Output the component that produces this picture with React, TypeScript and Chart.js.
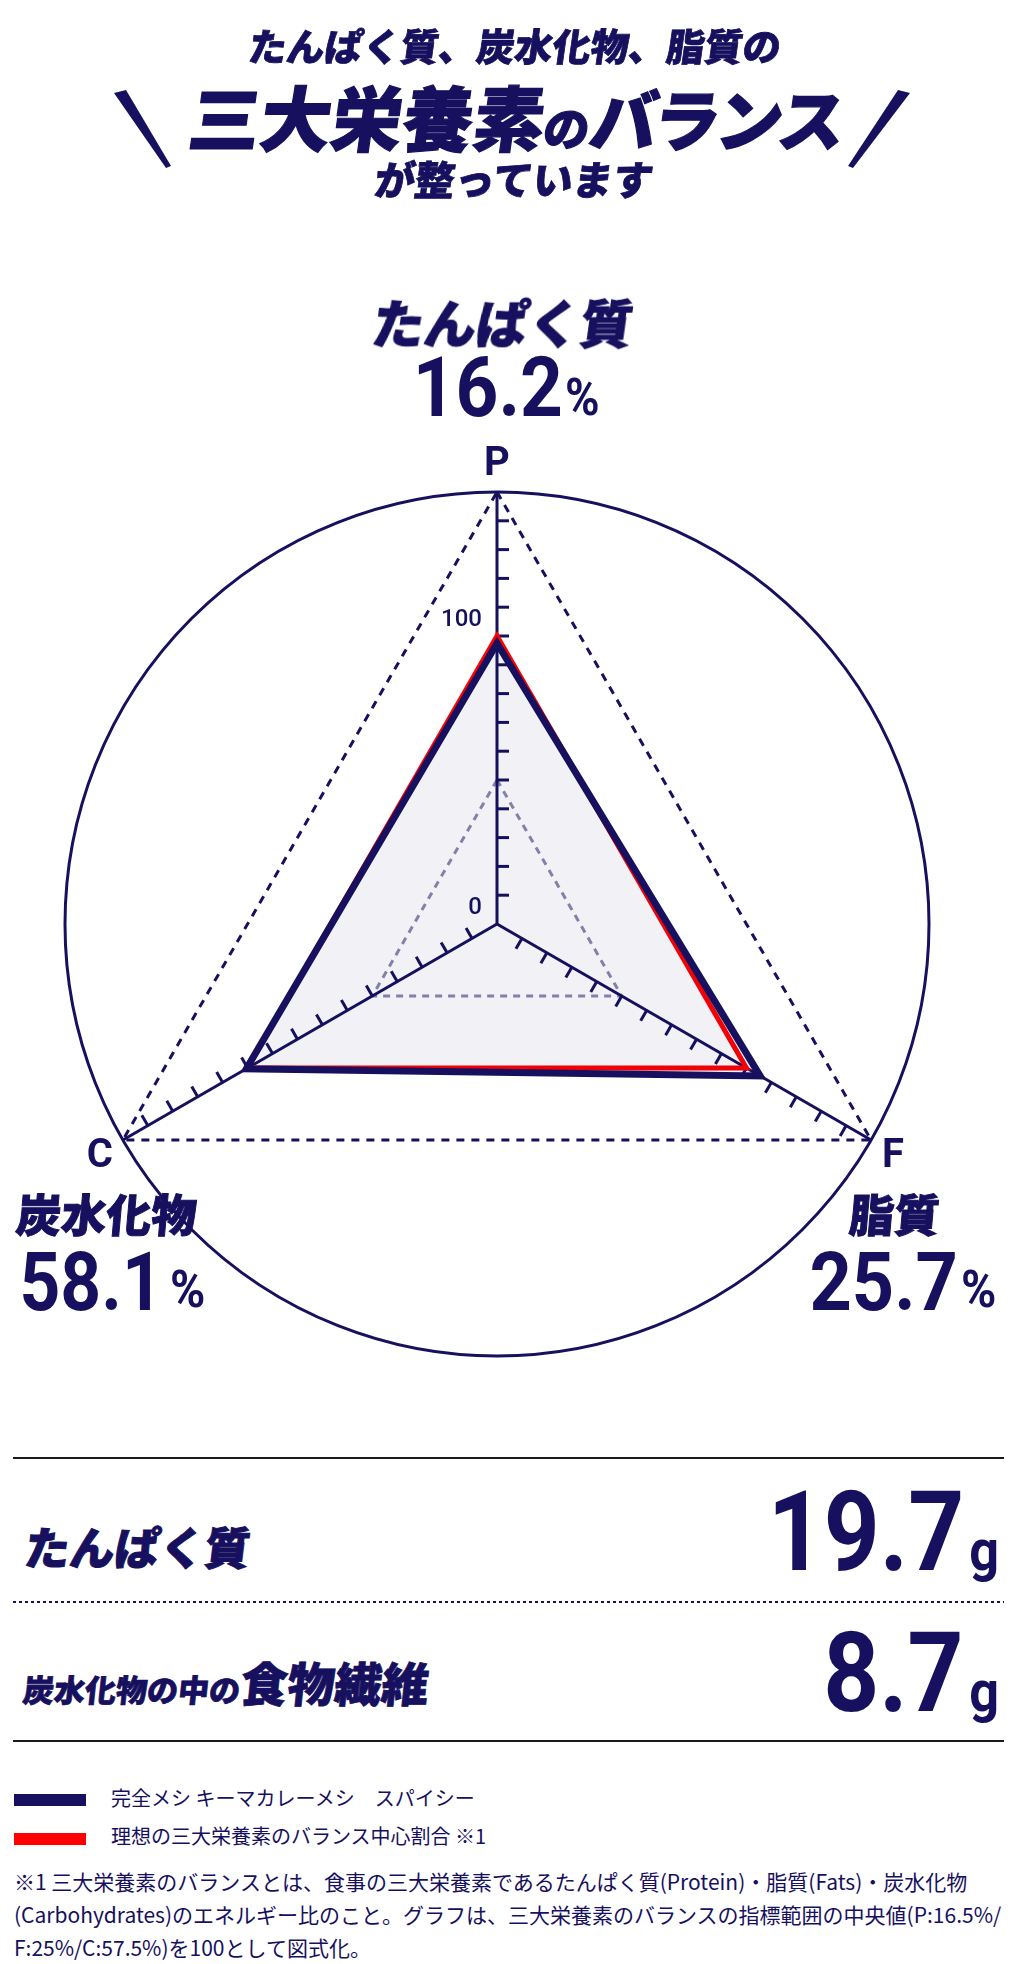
import React, { useEffect, useRef } from 'react';
import { Chart, registerables } from 'chart.js';

Chart.register(...registerables);

// ---------- data ----------
const AXIS_LETTERS = ['P', 'F', 'C'];
const AXIS_NAMES = ['たんぱく質', '脂質', '炭水化物'];
const AXIS_PERCENT = ['16.2', '25.7', '58.1'];
const PRODUCT_INDEX = [97.5, 105.5, 100.5];
const IDEAL_INDEX = [100, 100, 100];
const SERIES_NAMES = ['完全メシ キーマカレーメシ\u3000スパイシー', '理想の三大栄養素のバランス中心割合 ※1'];
const GRID_LEVELS = [0, 50, 100, 150];
const TICK_MARK_VALUES = [10, 20, 30, 40, 50, 60, 70, 80, 90, 100, 110, 120, 130, 140];
const TICK_LABEL_VALUES = [0, 100];
const ROW_LABELS = ['たんぱく質', '炭水化物の中の', '食物繊維'];
const ROW_VALUES = ['19.7', '8.7'];
const ROW_UNIT = 'g';
const TITLE_LINES = ['たんぱく質、炭水化物、脂質の', '三大栄養素', 'の', 'バランス', 'が整っています'];
const FOOTNOTE_LINES = [
  '※1 三大栄養素のバランスとは、食事の三大栄養素であるたんぱく質(Protein)・脂質(Fats)・炭水化物',
  '(Carbohydrates)のエネルギー比のこと。グラフは、三大栄養素のバランスの指標範囲の中央値(P:16.5%/',
  'F:25%/C:57.5%)を100として図式化。',
];

// ---------- style ----------
const NAVY = '#16105e';
const RED = '#ff0000';
const FILL = 'rgba(22,16,94,0.06)';
const GREY_DASH = 'rgba(22,16,94,0.5)';
const CJK = '"Noto Sans CJK JP", sans-serif';
const ROB = 'Roboto, sans-serif';
const K_CJK = 0.936;
const K_ROB = 0.842;

type TxtProps = {
  x: number; y: number; size: number; font?: 'cjk' | 'rob'; weight?: number;
  align?: 'left' | 'right' | 'center'; skew?: number; sx?: number; color?: string; ls?: number; stroke?: number;
  children: React.ReactNode;
};

function Txt({ x, y, size, font = 'cjk', weight = 400, align = 'left', skew = 0, sx = 1, color = NAVY, ls = 0, stroke = 0, children }: TxtProps) {
  const k = font === 'cjk' ? K_CJK : K_ROB;
  const style: any = {
    position: 'absolute', top: y - k * size, fontFamily: font === 'cjk' ? CJK : ROB,
    fontSize: size, fontWeight: weight, lineHeight: `${size}px`, whiteSpace: 'pre', color, letterSpacing: ls,
  };
  if (stroke) style.WebkitTextStroke = `${stroke}px ${color}`;
  let origin = 'left';
  if (align === 'left') style.left = x;
  else if (align === 'right') { style.right = 1024 - x; origin = 'right'; }
  else { style.left = x - 600; style.width = 1200; style.textAlign = 'center'; origin = 'center'; }
  const tf: string[] = [];
  if (sx !== 1) tf.push(`scaleX(${sx})`);
  if (skew) tf.push(`skewX(${-skew}deg)`);
  if (tf.length) { style.transform = tf.join(' '); style.transformOrigin = `${origin} ${k * size}px`; }
  return <div style={style}>{children}</div>;
}

const radarDecor = {
  id: 'radarDecor',
  beforeDatasetsDraw(chart: any) {
    const s = chart.scales.r;
    const ctx = chart.ctx;
    ctx.save();
    ctx.strokeStyle = NAVY;
    ctx.lineWidth = 3;
    const n = chart.data.labels.length;
    for (let i = 0; i < n; i++) {
      const a = s.getIndexAngle(i) - Math.PI / 2;
      const tx = -Math.sin(a);
      const ty = Math.cos(a);
      for (const v of TICK_MARK_VALUES) {
        const p = s.getPointPositionForValue(i, v);
        ctx.beginPath();
        ctx.moveTo(p.x, p.y);
        ctx.lineTo(p.x + tx * 12, p.y + ty * 12);
        ctx.stroke();
      }
    }
    ctx.fillStyle = NAVY;
    ctx.font = '500 24px Roboto';
    ctx.textAlign = 'right';
    ctx.textBaseline = 'alphabetic';
    for (const v of TICK_LABEL_VALUES) {
      const p = s.getPointPositionForValue(0, v);
      ctx.fillText(String(v), p.x - 15, p.y - 10);
    }
    ctx.restore();
  },
  afterDraw(chart: any) {
    const s = chart.scales.r;
    const ctx = chart.ctx;
    ctx.save();
    ctx.fillStyle = NAVY;
    ctx.font = '700 40px Roboto';
    ctx.textBaseline = 'alphabetic';
    const labels = chart.data.labels;
    labels.forEach((lab: string, i: number) => {
      const p = s.getPointPositionForValue(i, s.max);
      if (i === 0) { ctx.textAlign = 'center'; ctx.fillText(lab, p.x, p.y - 17); }
      else if (p.x > s.xCenter) { ctx.textAlign = 'left'; ctx.fillText(lab, p.x + 11, p.y + 27); }
      else { ctx.textAlign = 'right'; ctx.fillText(lab, p.x - 10, p.y + 27); }
    });
    ctx.restore();
  },
};

function Radar() {
  const ref = useRef<HTMLCanvasElement | null>(null);
  useEffect(() => {
    if (!ref.current) return;
    const chart = new Chart(ref.current, {
      type: 'radar',
      data: {
        labels: AXIS_LETTERS,
        datasets: [
          { label: SERIES_NAMES[0], data: PRODUCT_INDEX, borderColor: NAVY, borderWidth: 7, backgroundColor: FILL, fill: true, pointRadius: 0, borderJoinStyle: 'miter' },
          { label: SERIES_NAMES[1], data: IDEAL_INDEX, borderColor: RED, borderWidth: 5, fill: false, pointRadius: 0, borderJoinStyle: 'miter' },
        ],
      },
      options: {
        responsive: false,
        animation: false,
        layout: { padding: { left: 65, right: 95, top: 492, bottom: 44 } },
        plugins: { legend: { display: false }, tooltip: { enabled: false } },
        scales: {
          r: {
            min: 0,
            max: 150,
            afterBuildTicks: (sc: any) => {
              sc.ticks = [...GRID_LEVELS, sc.max].map((v) => ({ value: v }));
            },
            ticks: { display: false },
            pointLabels: { display: false },
            angleLines: { color: NAVY, lineWidth: 3 },
            grid: {
              circular: (c: any) => c.index === GRID_LEVELS.length,
              color: (c: any) => {
                if (c.index === GRID_LEVELS.length) return NAVY;
                if (c.tick && c.tick.value === 50) return GREY_DASH;
                if (c.tick && c.tick.value === 150) return NAVY;
                return 'rgba(0,0,0,0)';
              },
              lineWidth: 3,
            },
            border: {
              dash: (c: any) => {
                if (c.index === GRID_LEVELS.length) return [];
                if (c.tick && c.tick.value === 50) return [7, 6];
                return [8, 7];
              },
            },
          } as any,
        },
      } as any,
      plugins: [radarDecor],
    });
    return () => chart.destroy();
  }, []);
  return <canvas ref={ref} width={1024} height={1400} style={{ position: 'absolute', left: 0, top: 0 }} />;
}

export default function App() {
  const HEAVY = 900;
  return (
    <div style={{ position: 'absolute', left: 0, top: 0, width: 1024, height: 1964, overflow: 'hidden', background: '#fff' }}>
      <Radar />

      {/* title */}
      <Txt x={513} y={62} size={38} weight={HEAVY} align="center" skew={8} stroke={0.8}>{TITLE_LINES[0]}</Txt>
      <div style={{ position: 'absolute', left: -88, width: 1200, top: 146 - K_CJK * 71, textAlign: 'center', fontFamily: CJK, fontWeight: HEAVY, fontSize: 71, lineHeight: '71px', color: NAVY, whiteSpace: 'pre', transform: 'skewX(-8deg)', transformOrigin: `center ${K_CJK * 71}px`, WebkitTextStroke: `1.2px ${NAVY}` }}>
        <span>{TITLE_LINES[1]}</span>
        <span style={{ fontSize: 46 }}>{TITLE_LINES[2]}</span>
        <span style={{ fontSize: 67, letterSpacing: -4 }}>{TITLE_LINES[3]}</span>
      </div>
      <Txt x={512} y={195} size={40} weight={HEAVY} align="center" skew={8} stroke={0.8}>{TITLE_LINES[4]}</Txt>
      <svg width={1024} height={220} style={{ position: 'absolute', left: 0, top: 0 }}>
        <polygon points="114,93 126,90 171,166 166,168" fill={NAVY} />
        <polygon points="898,90 910,93 853,168 848,166" fill={NAVY} />
      </svg>

      {/* radar labels */}
      <Txt x={500} y={344} size={52} weight={HEAVY} align="center" skew={8} stroke={1}>{AXIS_NAMES[0]}</Txt>
      <Txt x={563} y={416} size={83} font="rob" weight={700} align="right" sx={0.9}>{AXIS_PERCENT[0]}</Txt>
      <Txt x={565} y={416} size={52} font="rob" weight={700} sx={0.9}>%</Txt>

      <Txt x={15} y={1232} size={45} weight={HEAVY} skew={5} stroke={1}>{AXIS_NAMES[2]}</Txt>
      <Txt x={163} y={1310} size={82} font="rob" weight={700} align="right" sx={0.87}>{AXIS_PERCENT[2]}</Txt>
      <Txt x={170} y={1308} size={52} font="rob" weight={700} sx={0.92}>%</Txt>

      <Txt x={848} y={1232} size={45} weight={HEAVY} skew={5} stroke={1}>{AXIS_NAMES[1]}</Txt>
      <Txt x={958} y={1310} size={82} font="rob" weight={700} align="right" sx={0.9}>{AXIS_PERCENT[1]}</Txt>
      <Txt x={961} y={1308} size={52} font="rob" weight={700} sx={0.92}>%</Txt>

      {/* table */}
      <div style={{ position: 'absolute', left: 13, top: 1457, width: 991, height: 2, background: '#1a1a1a' }} />
      <div style={{ position: 'absolute', left: 13, top: 1601, width: 991, height: 2, background: `repeating-linear-gradient(to right, ${NAVY} 0 3px, transparent 3px 6px)` }} />
      <div style={{ position: 'absolute', left: 13, top: 1740, width: 991, height: 2, background: '#1a1a1a' }} />

      <Txt x={23} y={1565} size={45} weight={HEAVY} skew={7} stroke={1}>{ROW_LABELS[0]}</Txt>
      <Txt x={964} y={1570} size={111} font="rob" weight={700} align="right" sx={0.88}>{ROW_VALUES[0]}</Txt>
      <Txt x={999} y={1570} size={58} font="rob" weight={700} align="right" sx={0.9}>{ROW_UNIT}</Txt>

      <div style={{ position: 'absolute', left: 22, top: 1702 - K_CJK * 47, fontFamily: CJK, fontWeight: HEAVY, fontSize: 47, lineHeight: '47px', color: NAVY, whiteSpace: 'pre', transform: 'skewX(-6deg)', transformOrigin: `left ${K_CJK * 47}px`, WebkitTextStroke: `0.8px ${NAVY}` }}>
        <span style={{ fontSize: 31 }}>{ROW_LABELS[1]}</span>
        <span>{ROW_LABELS[2]}</span>
      </div>
      <Txt x={964} y={1711} size={111} font="rob" weight={700} align="right" sx={0.88}>{ROW_VALUES[1]}</Txt>
      <Txt x={999} y={1711} size={58} font="rob" weight={700} align="right" sx={0.9}>{ROW_UNIT}</Txt>

      {/* legend */}
      <div style={{ position: 'absolute', left: 14, top: 1794, width: 72, height: 12, background: NAVY }} />
      <Txt x={111} y={1807} size={20}>{SERIES_NAMES[0]}</Txt>
      <div style={{ position: 'absolute', left: 14, top: 1833, width: 72, height: 12, background: RED }} />
      <Txt x={111} y={1845} size={20}>{SERIES_NAMES[1]}</Txt>

      {/* footnote */}
      {FOOTNOTE_LINES.map((t, i) => (
        <Txt key={i} x={14} y={1891 + i * 33} size={21}>{t}</Txt>
      ))}
    </div>
  );
}
